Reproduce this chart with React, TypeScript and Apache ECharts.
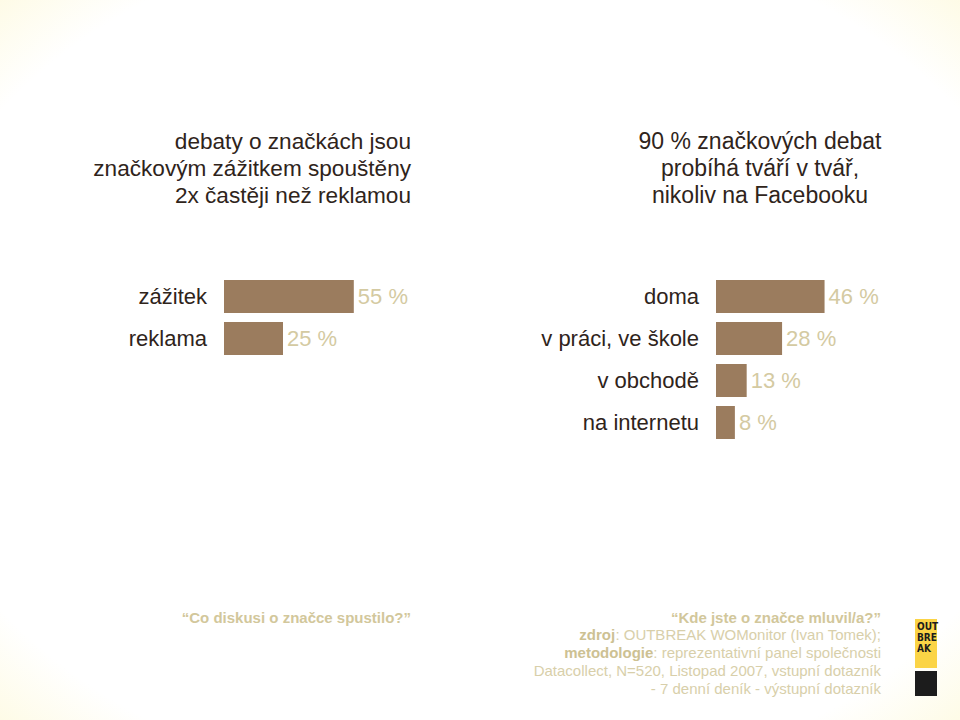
import React, { useEffect, useRef } from "react";
import * as echarts from "echarts";

const leftCategories = ["zážitek", "reklama"];
const leftValues = [55, 25];
const rightCategories = ["doma", "v práci, ve škole", "v obchodě", "na internetu"];
const rightValues = [46, 28, 13, 8];

const leftTitle = ["debaty o značkách jsou", "značkovým zážitkem spouštěny", "2x častěji než reklamou"];
const rightTitle = ["90 % značkových debat", "probíhá tváří v tvář,", "nikoliv na Facebooku"];
const leftQuestion = "“Co diskusi o značce spustilo?”";
const sourceLines = [
  "{q|“Kde jste o značce mluvil/a?”}",
  "{b|zdroj}: OUTBREAK WOMonitor (Ivan Tomek);",
  "{b|metodologie}: reprezentativní panel společnosti",
  "Datacollect, N=520, Listopad 2007, vstupní dotazník",
  "- 7 denní deník - výstupní dotazník",
];
const logoLines = ["OUT", "BRE", "AK"];

const FONT = "'Liberation Sans', Arial, Helvetica, sans-serif";
const BAR = "#9b7c5e";
const DARK = "#2f241b";
const LIGHT = "#d4caa2";

export default function App() {
  const ref = useRef<HTMLDivElement>(null);
  useEffect(() => {
    if (!ref.current) return;
    const chart = echarts.init(ref.current, null, { renderer: "svg" });
    const axisY = (cats: string[], idx: number) => ({
      type: "category",
      gridIndex: idx,
      data: cats,
      inverse: true,
      axisLine: { show: false },
      axisTick: { show: false },
      splitLine: { show: false },
      axisLabel: { color: DARK, fontSize: 22, fontFamily: FONT, margin: 17 },
    });
    const axisX = (idx: number) => ({
      type: "value",
      gridIndex: idx,
      min: 0,
      max: 100,
      show: false,
      splitLine: { show: false },
    });
    const barSeries = (vals: number[], idx: number) => ({
      type: "bar",
      xAxisIndex: idx,
      yAxisIndex: idx,
      data: vals,
      barWidth: 33,
      itemStyle: { color: BAR },
      label: {
        show: true,
        position: "right",
        distance: 4,
        formatter: "{c} %",
        color: LIGHT,
        fontSize: 22,
        fontFamily: FONT,
      },
    });
    const graphics: any[] = [];
    leftTitle.forEach((t, i) =>
      graphics.push({
        type: "text",
        x: 411,
        y: 141 + i * 27,
        style: { text: t, fill: DARK, font: `22.6px ${FONT}`, textAlign: "right", textVerticalAlign: "middle" },
      })
    );
    rightTitle.forEach((t, i) =>
      graphics.push({
        type: "text",
        x: 760,
        y: 141 + i * 27,
        style: { text: t, fill: DARK, font: `23px ${FONT}`, textAlign: "center", textVerticalAlign: "middle" },
      })
    );
    graphics.push({
      type: "text",
      x: 411,
      y: 617,
      style: {
        text: leftQuestion,
        fill: "#d2c79b",
        font: `bold 15px ${FONT}`,
        textAlign: "right",
        textVerticalAlign: "middle",
      },
    });
    sourceLines.forEach((t, i) =>
      graphics.push({
        type: "text",
        x: 881,
        y: 617 + i * 17.8,
        style: {
          text: t,
          fill: "#d8cfaa",
          font: `15px ${FONT}`,
          fontSize: 15,
          fontFamily: FONT,
          textAlign: "right",
          textVerticalAlign: "middle",
          rich: {
            q: { fontWeight: "bold", fill: "#d2c79b", fontSize: 15, fontFamily: FONT },
            b: { fontWeight: "bold", fill: "#cdc193", fontSize: 15, fontFamily: FONT },
          },
        },
      })
    );
    graphics.push({
      type: "rect",
      shape: { x: 915, y: 619, width: 22, height: 49 },
      style: { fill: "#fbd446" },
    });
    graphics.push({
      type: "rect",
      shape: { x: 915, y: 671, width: 22, height: 25 },
      style: { fill: "#1c1c1c" },
    });
    logoLines.forEach((t, i) =>
      graphics.push({
        type: "text",
        x: 917,
        y: 626 + i * 11,
        style: {
          text: t,
          fill: "#1c1c1c",
          font: `bold 10px 'Liberation Sans Narrow', 'DejaVu Sans Condensed', ${FONT}`,
          textAlign: "left",
          textVerticalAlign: "middle",
        },
      })
    );

    chart.setOption({
      animation: false,
      backgroundColor: {
        type: "radial",
        x: 0.5,
        y: 0.5,
        r: 0.82,
        colorStops: [
          { offset: 0, color: "#ffffff" },
          { offset: 0.74, color: "#ffffff" },
          { offset: 1, color: "#fdf7cb" },
        ],
      },
      grid: [
        { left: 224, top: 275.5, width: 236, height: 84 },
        { left: 716, top: 275.5, width: 236, height: 168 },
      ],
      xAxis: [axisX(0), axisX(1)],
      yAxis: [axisY(leftCategories, 0), axisY(rightCategories, 1)],
      series: [barSeries(leftValues, 0), barSeries(rightValues, 1)],
      graphic: graphics,
    });
    return () => chart.dispose();
  }, []);
  return (
    <div
      ref={ref}
      style={{ position: "absolute", left: 0, top: 0, width: 960, height: 720 }}
    />
  );
}
